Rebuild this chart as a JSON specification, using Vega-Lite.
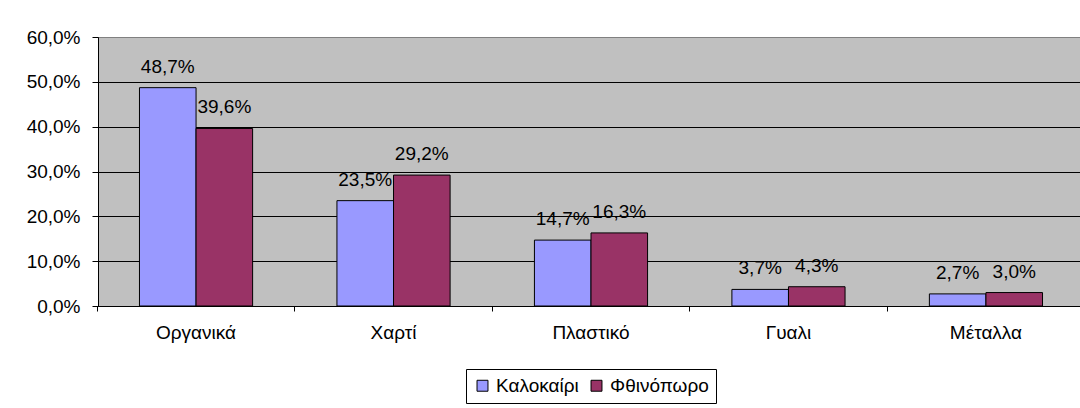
{
  "$schema": "https://vega.github.io/schema/vega-lite/v6.json",
  "autosize": {"type": "none"},
  "padding": {"left": 98, "top": 37, "right": 0, "bottom": 102},
  "width": 986,
  "height": 269,
  "background": "white",
  "data": {
    "values": [
      {"cat": "Οργανικά", "season": "Καλοκαίρι", "v": 0.487},
      {"cat": "Οργανικά", "season": "Φθινόπωρο", "v": 0.396},
      {"cat": "Χαρτί", "season": "Καλοκαίρι", "v": 0.235},
      {"cat": "Χαρτί", "season": "Φθινόπωρο", "v": 0.292},
      {"cat": "Πλαστικό", "season": "Καλοκαίρι", "v": 0.147},
      {"cat": "Πλαστικό", "season": "Φθινόπωρο", "v": 0.163},
      {"cat": "Γυαλι", "season": "Καλοκαίρι", "v": 0.037},
      {"cat": "Γυαλι", "season": "Φθινόπωρο", "v": 0.043},
      {"cat": "Μέταλλα", "season": "Καλοκαίρι", "v": 0.027},
      {"cat": "Μέταλλα", "season": "Φθινόπωρο", "v": 0.030}
    ]
  },
  "encoding": {
    "x": {
      "field": "cat", "type": "nominal",
      "sort": ["Οργανικά", "Χαρτί", "Πλαστικό", "Γυαλι", "Μέταλλα"],
      "scale": {"paddingInner": 0.427, "paddingOuter": 0.21},
      "axis": {
        "title": null, "labelAngle": 0, "domainColor": "black", "domainWidth": 1,
        "tickColor": "black", "tickSize": 5, "bandPosition": -0.373,
        "labelPadding": 12, "labelBaseline": "top", "labelFontSize": 19, "labelColor": "black"
      }
    },
    "xOffset": {"field": "season", "type": "nominal", "sort": ["Καλοκαίρι", "Φθινόπωρο"], "scale": {"paddingInner": 0, "paddingOuter": 0}},
    "y": {
      "field": "v", "type": "quantitative",
      "scale": {"domain": [0, 0.6], "nice": false},
      "axis": {
        "title": null, "format": ".1%", "values": [0, 0.1, 0.2, 0.3, 0.4, 0.5, 0.6],
        "domainColor": "black", "tickColor": "black", "tickSize": 6, "labelPadding": 12,
        "labelFontSize": 19, "labelColor": "black",
        "grid": true,
        "gridColor": {"condition": {"test": "datum.value >= 0.6", "value": "#808080"}, "value": "black"},
        "gridOpacity": 1, "gridWidth": 1
      }
    }
  },
  "layer": [
    {
      "mark": {"type": "bar", "stroke": "black", "strokeWidth": 1},
      "encoding": {
        "color": {
          "field": "season", "type": "nominal",
          "scale": {"domain": ["Καλοκαίρι", "Φθινόπωρο"], "range": ["#9999FF", "#993366"]},
          "legend": {
            "title": null, "orient": "none", "legendX": 368, "legendY": 332, "direction": "horizontal",
            "symbolType": "square", "symbolSize": 120, "symbolStrokeColor": "black", "symbolStrokeWidth": 1,
            "labelFontSize": 19, "labelColor": "black", "strokeColor": "black", "padding": 7,
            "columnPadding": 8, "labelOffset": 4
          }
        }
      }
    },
    {
      "mark": {"type": "text", "baseline": "bottom", "dy": -11, "fontSize": 19, "color": "black"},
      "encoding": {"text": {"field": "v", "type": "quantitative", "format": ".1%"}}
    }
  ],
  "config": {
    "locale": {"number": {"decimal": ",", "thousands": ".", "grouping": [3], "currency": ["", " €"]}},
    "font": "Liberation Sans",
    "view": {"fill": "#C0C0C0", "stroke": "#808080", "strokeWidth": 1},
    "axis": {"labelFont": "Liberation Sans"},
    "legend": {"labelFont": "Liberation Sans"}
  }
}
